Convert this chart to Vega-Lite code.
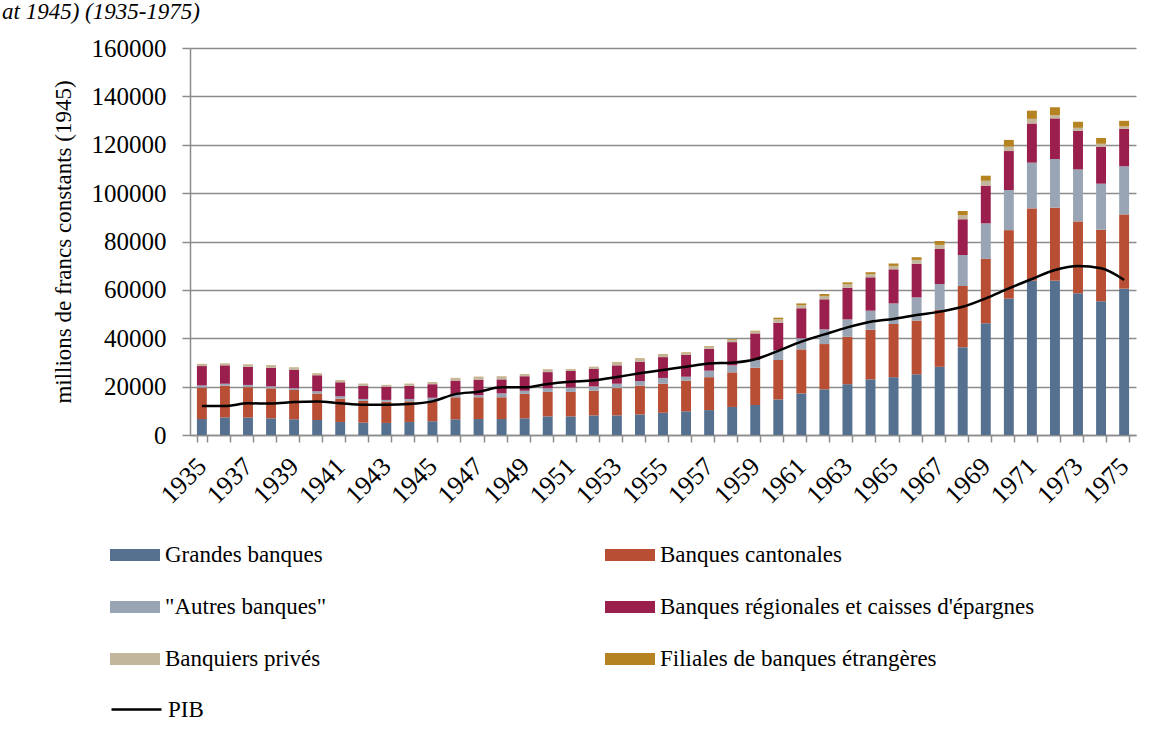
{
 "$schema": "https://vega.github.io/schema/vega-lite/v6.json",
 "width": 946,
 "height": 387,
 "autosize": {"type": "none"},
 "padding": {"left": 190, "top": 48, "right": 27, "bottom": 305},
 "background": "white",
 "title": {"text": "at 1945) (1935-1975)", "anchor": "start", "frame": "group", "dx": -188, "dy": 22, "offset": 16, "baseline": "alphabetic", "font": "Liberation Serif", "fontSize": 23, "fontStyle": "italic", "fontWeight": "normal", "color": "black"},
 "config": {
  "font": "Liberation Serif",
  "view": {"stroke": null},
  "axis": {"domainColor": "#8c8c8c", "tickColor": "#8c8c8c", "domainWidth": 1.5, "tickWidth": 1.5, "gridColor": "#8c8c8c", "gridWidth": 1.5, "labelColor": "black", "titleColor": "black", "labelFont": "Liberation Serif", "titleFont": "Liberation Serif", "labelFontSize": 25, "titleFontSize": 23, "titleFontWeight": "normal"}
 },
 "data": {"values": [
  {"year": 1935, "k1": 6600, "k2": 13000, "k3": 900, "k4": 8000, "k5": 800, "k6": 100, "pib": 12000},
  {"year": 1936, "k1": 7300, "k2": 13100, "k3": 800, "k4": 7600, "k5": 700, "k6": 100, "pib": 12000},
  {"year": 1937, "k1": 7200, "k2": 12600, "k3": 900, "k4": 7500, "k5": 900, "k6": 100, "pib": 13100},
  {"year": 1938, "k1": 6900, "k2": 12400, "k3": 800, "k4": 7700, "k5": 1000, "k6": 100, "pib": 13000},
  {"year": 1939, "k1": 6500, "k2": 12100, "k3": 700, "k4": 7600, "k5": 1000, "k6": 100, "pib": 13600},
  {"year": 1940, "k1": 6200, "k2": 11000, "k3": 900, "k4": 6600, "k5": 700, "k6": 100, "pib": 13800},
  {"year": 1941, "k1": 5400, "k2": 9600, "k3": 1000, "k4": 5800, "k5": 800, "k6": 100, "pib": 13100},
  {"year": 1942, "k1": 5100, "k2": 9000, "k3": 800, "k4": 5400, "k5": 800, "k6": 100, "pib": 12500},
  {"year": 1943, "k1": 5000, "k2": 8800, "k3": 700, "k4": 5500, "k5": 600, "k6": 100, "pib": 12500},
  {"year": 1944, "k1": 5400, "k2": 8500, "k3": 1000, "k4": 5400, "k5": 800, "k6": 100, "pib": 12800},
  {"year": 1945, "k1": 5700, "k2": 8200, "k3": 1500, "k4": 5600, "k5": 800, "k6": 100, "pib": 13900},
  {"year": 1946, "k1": 6500, "k2": 9100, "k3": 1100, "k4": 5800, "k5": 1000, "k6": 100, "pib": 16900},
  {"year": 1947, "k1": 6600, "k2": 9000, "k3": 900, "k4": 6400, "k5": 1100, "k6": 100, "pib": 17900},
  {"year": 1948, "k1": 6600, "k2": 9000, "k3": 1600, "k4": 5800, "k5": 1200, "k6": 100, "pib": 19700},
  {"year": 1949, "k1": 6900, "k2": 10100, "k3": 1300, "k4": 6000, "k5": 800, "k6": 100, "pib": 19700},
  {"year": 1950, "k1": 7700, "k2": 10100, "k3": 1500, "k4": 6700, "k5": 1100, "k6": 100, "pib": 21100},
  {"year": 1951, "k1": 7700, "k2": 10100, "k3": 1800, "k4": 6900, "k5": 700, "k6": 100, "pib": 22000},
  {"year": 1952, "k1": 8100, "k2": 10200, "k3": 1800, "k4": 7200, "k5": 800, "k6": 100, "pib": 22600},
  {"year": 1953, "k1": 8100, "k2": 11300, "k3": 1800, "k4": 7600, "k5": 1200, "k6": 200, "pib": 24000},
  {"year": 1954, "k1": 8500, "k2": 11900, "k3": 1900, "k4": 8000, "k5": 1200, "k6": 200, "pib": 25500},
  {"year": 1955, "k1": 9200, "k2": 12000, "k3": 2400, "k4": 8600, "k5": 1100, "k6": 200, "pib": 26900},
  {"year": 1956, "k1": 9800, "k2": 12700, "k3": 1600, "k4": 9000, "k5": 900, "k6": 200, "pib": 28200},
  {"year": 1957, "k1": 10300, "k2": 13600, "k3": 2700, "k4": 9000, "k5": 1000, "k6": 200, "pib": 29600},
  {"year": 1958, "k1": 11600, "k2": 14300, "k3": 2900, "k4": 9600, "k5": 1000, "k6": 300, "pib": 29900},
  {"year": 1959, "k1": 12400, "k2": 15400, "k3": 3200, "k4": 11000, "k5": 800, "k6": 300, "pib": 31300},
  {"year": 1960, "k1": 14700, "k2": 16300, "k3": 4100, "k4": 11300, "k5": 1400, "k6": 700, "pib": 34800},
  {"year": 1961, "k1": 17200, "k2": 18200, "k3": 4600, "k4": 12400, "k5": 1300, "k6": 700, "pib": 38600},
  {"year": 1962, "k1": 18900, "k2": 18700, "k3": 6100, "k4": 12400, "k5": 1400, "k6": 800, "pib": 41600},
  {"year": 1963, "k1": 21000, "k2": 19600, "k3": 7200, "k4": 13100, "k5": 1400, "k6": 800, "pib": 44500},
  {"year": 1964, "k1": 23000, "k2": 20500, "k3": 7900, "k4": 13800, "k5": 1300, "k6": 800, "pib": 46800},
  {"year": 1965, "k1": 23900, "k2": 22000, "k3": 8500, "k4": 14100, "k5": 1400, "k6": 1000, "pib": 48000},
  {"year": 1966, "k1": 25100, "k2": 22200, "k3": 9600, "k4": 13900, "k5": 1600, "k6": 1100, "pib": 49600},
  {"year": 1967, "k1": 28200, "k2": 23500, "k3": 10700, "k4": 14500, "k5": 1700, "k6": 1600, "pib": 51000},
  {"year": 1968, "k1": 36300, "k2": 25300, "k3": 12800, "k4": 14800, "k5": 1700, "k6": 1700, "pib": 53000},
  {"year": 1969, "k1": 46200, "k2": 26600, "k3": 14700, "k4": 15600, "k5": 2000, "k6": 2100, "pib": 56500},
  {"year": 1970, "k1": 56400, "k2": 28300, "k3": 16600, "k4": 16100, "k5": 1800, "k6": 2800, "pib": 60600},
  {"year": 1971, "k1": 63800, "k2": 29900, "k3": 18900, "k4": 16200, "k5": 1900, "k6": 3400, "pib": 64500},
  {"year": 1972, "k1": 63800, "k2": 30200, "k3": 20100, "k4": 16800, "k5": 1300, "k6": 3300, "pib": 68200},
  {"year": 1973, "k1": 58600, "k2": 29700, "k3": 21500, "k4": 15900, "k5": 1300, "k6": 2500, "pib": 69900},
  {"year": 1974, "k1": 55300, "k2": 29600, "k3": 19000, "k4": 15300, "k5": 1200, "k6": 2400, "pib": 68900},
  {"year": 1975, "k1": 60500, "k2": 30700, "k3": 19900, "k4": 15500, "k5": 1000, "k6": 2300, "pib": 64100}
 ]},
 "layer": [
  {
   "transform": [{"fold": ["k1", "k2", "k3", "k4", "k5", "k6"], "as": ["key", "val"]}],
   "mark": {"type": "bar"},
   "encoding": {
    "x": {"field": "year", "type": "ordinal", "scale": {"paddingInner": 0.57, "paddingOuter": 0.3},
          "axis": {"title": null, "tickBand": "extent", "tickSize": 7, "labelAngle": -45, "labelAlign": "right", "labelBaseline": "middle", "labelFontSize": 26, "labelPadding": 20, "labelOverlap": false, "labelExpr": "datum.value % 2 == 1 ? datum.label : ''"}},
    "y": {"field": "val", "type": "quantitative", "stack": "zero", "scale": {"domain": [0, 160000]},
          "axis": {"title": "millions de francs constants (1945)", "values": [0, 20000, 40000, 60000, 80000, 100000, 120000, 140000, 160000], "format": "d", "tickSize": 8, "labelPadding": 16, "titlePadding": 16, "grid": true}},
    "color": {"field": "key", "type": "nominal",
              "scale": {"domain": ["k1", "k3", "k5", "k2", "k4", "k6"], "range": ["#56708f", "#99a5b5", "#c2b69c", "#b84e33", "#9a1f4d", "#b68322"]},
              "legend": {"orient": "none", "legendX": -80, "legendY": 482, "columns": 2, "title": null,
                         "symbolType": "M-1,-0.24H1V0.24H-1Z", "symbolSize": 2500, "symbolStrokeWidth": 0,
                         "labelFont": "Liberation Serif", "labelFontSize": 23, "labelColor": "black", "labelLimit": 600,
                         "labelOffset": 5, "rowPadding": 15, "columnPadding": 278,
                         "labelExpr": "{'k1': 'Grandes banques', 'k2': 'Banques cantonales', 'k3': '\"Autres banques\"', 'k4': 'Banques régionales et caisses d\\'épargnes', 'k5': 'Banquiers privés', 'k6': 'Filiales de banques étrangères'}[datum.label]"}},
    "order": {"field": "key", "sort": "ascending"}
   }
  },
  {
   "mark": {"type": "line", "interpolate": "monotone", "strokeWidth": 2.5},
   "encoding": {
    "x": {"field": "year", "type": "ordinal"},
    "y": {"field": "pib", "type": "quantitative", "axis": {"title": "millions de francs constants (1945)"}},
    "stroke": {"datum": "PIB", "type": "nominal", "scale": {"range": ["black"]},
               "legend": {"orient": "none", "legendX": -80, "legendY": 635, "title": null,
                          "symbolType": "stroke", "symbolSize": 2500, "symbolStrokeWidth": 2.5,
                          "labelFont": "Liberation Serif", "labelFontSize": 23, "labelColor": "black", "labelOffset": 5}}
   }
  }
 ]
}
